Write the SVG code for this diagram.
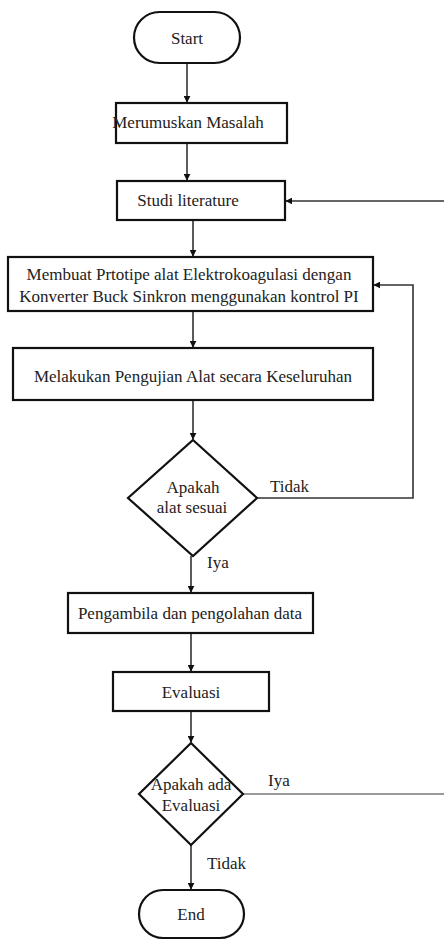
<svg xmlns="http://www.w3.org/2000/svg" width="444" height="940" viewBox="0 0 444 940">
<style>
.n{fill:#fff;stroke:#111;stroke-width:2.2}
.t{font-family:'Liberation Serif','DejaVu Serif',serif;font-size:17px;fill:#222;text-anchor:middle}
.l{font-family:'Liberation Serif','DejaVu Serif',serif;font-size:17px;fill:#222}
.c{fill:none;stroke:#333;stroke-width:1.6}
</style>
<defs>
<marker id="a" viewBox="0 0 10 10" refX="9" refY="5" markerWidth="7" markerHeight="7" markerUnits="userSpaceOnUse" orient="auto">
<path d="M0,0 L10,5 L0,10 z" fill="#111"/>
</marker>
</defs>
<rect width="444" height="940" fill="#fff"/>
<g id="connectors">
<path class="c" d="M187,63 V102" marker-end="url(#a)"/>
<path class="c" d="M187,143 V180" marker-end="url(#a)"/>
<path class="c" d="M450,201 H286" marker-end="url(#a)"/>
<path class="c" d="M193,220 V256" marker-end="url(#a)"/>
<path class="c" d="M193,311 V347" marker-end="url(#a)"/>
<path class="c" d="M193,400 V439" marker-end="url(#a)"/>
<path class="c" d="M257,498 H413 V285 H374" marker-end="url(#a)"/>
<path class="c" d="M191,556 V592" marker-end="url(#a)"/>
<path class="c" d="M191,633 V671" marker-end="url(#a)"/>
<path class="c" d="M191,711 V742" marker-end="url(#a)"/>
<path class="c" d="M243,794 H450" style="stroke:#777"/>
<path class="c" d="M191,845 V889" marker-end="url(#a)"/>
<text class="l" x="270" y="492">Tidak</text>
<text class="l" x="207" y="568">Iya</text>
<text class="l" x="268" y="786">Iya</text>
<text class="l" x="207" y="869">Tidak</text>
</g>
<g id="start"><rect class="n" x="134" y="12" width="106" height="51" rx="25.5"/><text class="t" x="187" y="44">Start</text></g>
<g id="merumuskan"><rect class="n" x="116" y="103" width="171" height="40"/><text class="t" x="188" y="128">Merumuskan Masalah</text></g>
<g id="studi"><rect class="n" x="117" y="181" width="168" height="39"/><text class="t" x="188" y="206">Studi literature</text></g>
<g id="membuat"><rect class="n" x="8" y="257" width="365" height="54"/><text class="t" x="189" y="280">Membuat Prtotipe alat Elektrokoagulasi dengan</text><text class="t" x="189" y="302">Konverter Buck Sinkron menggunakan kontrol PI</text></g>
<g id="melakukan"><rect class="n" x="13" y="348" width="360" height="52"/><text class="t" x="193" y="382">Melakukan Pengujian Alat secara Keseluruhan</text></g>
<g id="sesuai"><path class="n" d="M193,440 L257,498 L193,556 L128,498 z"/><text class="t" x="193" y="493">Apakah</text><text class="t" x="192" y="513">alat sesuai</text></g>
<g id="pengambila"><rect class="n" x="68" y="593" width="245" height="40"/><text class="t" x="190" y="619">Pengambila dan pengolahan data</text></g>
<g id="evaluasi"><rect class="n" x="113" y="672" width="156" height="39"/><text class="t" x="191" y="698">Evaluasi</text></g>
<g id="ada"><path class="n" d="M191,743 L243,794 L191,845 L139,794 z"/><text class="t" x="191" y="790">Apakah ada</text><text class="t" x="191" y="811">Evaluasi</text></g>
<g id="end"><rect class="n" x="139" y="890" width="105" height="48" rx="24"/><text class="t" x="191" y="920">End</text></g>
</svg>
